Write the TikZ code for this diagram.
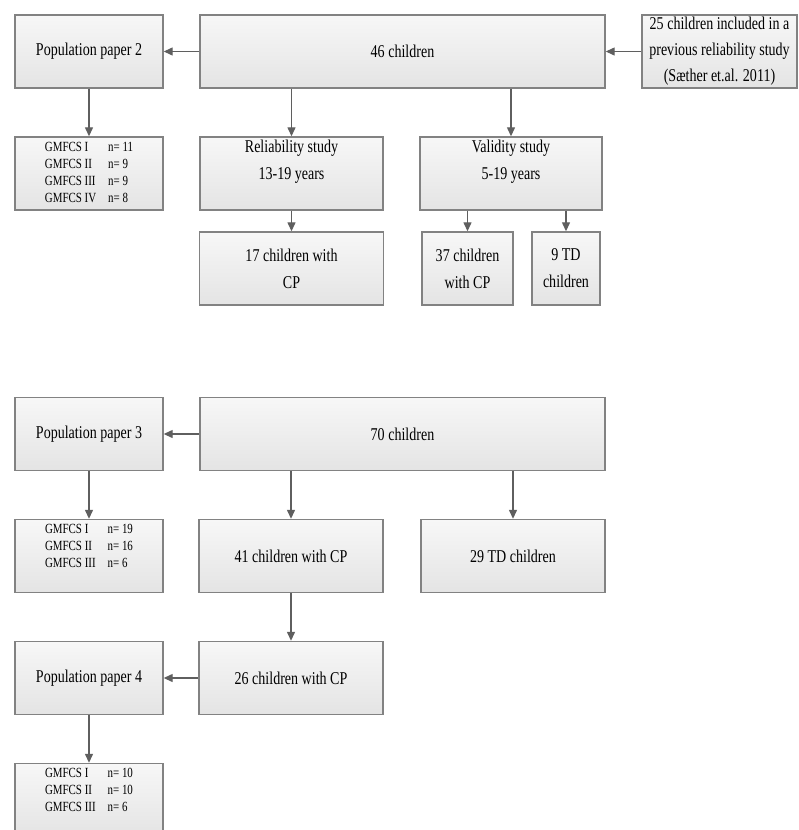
\documentclass[tikz,border=0pt]{standalone}
\usepackage{fontspec}
\setmainfont{Liberation Serif}[FakeStretch=0.78]
\usepackage{tikz}
\usetikzlibrary{arrows.meta}
\definecolor{boxline}{RGB}{130,130,130}
\definecolor{arrowgray}{RGB}{95,95,95}
\definecolor{boxtop}{RGB}{247,247,247}
\definecolor{boxbottom}{RGB}{228,228,228}
\tikzstyle{box} = [rectangle, minimum width=148pt, minimum height=73pt, inner sep=2pt, text centered, align=center, draw=boxline, line width=1.4pt, top color=boxtop, bottom color=boxbottom, font=\fontsize{18}{27}\selectfont]
\tikzstyle{gmbox} = [box, font=\fontsize{14}{17}\selectfont]
\tikzstyle{arrow} = [line width=1.3pt, draw=arrowgray, -{Triangle[length=9pt,width=8pt]}]

\begin{document}
\begin{tikzpicture}[node distance=122pt]
\useasboundingbox (0,0) rectangle (798pt,-830pt);
\clip (0,0) rectangle (798pt,-830pt);

% first study
\node (pop2) [box] at (89pt,-51.5pt) {Population paper 2};
\node (c46) [box, minimum width=405pt, right of=pop2, node distance=313.5pt] {46 children};
\node (prev) [box, minimum width=155pt, right of=c46, node distance=317pt, font=\fontsize{18}{26}\selectfont] {25 children included in a\\previous reliability study\\(Sæther et.al. 2011)};
\node (gm2) [gmbox, below of=pop2] {\begin{tabular}{@{}l@{\hspace{12pt}}l@{}}GMFCS I & n= 11\\GMFCS II & n= 9\\GMFCS III & n= 9\\GMFCS IV & n= 8\end{tabular}};
\node (rel) [box, minimum width=183pt, right of=gm2, node distance=202.5pt] {Reliability study\\13-19 years\\~};
\node (val) [box, minimum width=182pt, right of=rel, node distance=219.5pt] {Validity study\\5-19 years\\~};
\node (c17) [box, minimum width=184pt, below of=rel, node distance=95pt] {17 children with\\CP};
\node (c37) [box, minimum width=91pt, below of=val, node distance=95pt, xshift=-43.5pt] {37 children\\with CP};
\node (td9) [box, minimum width=68pt, below of=val, node distance=95pt, xshift=55pt] {9 TD\\children};

\draw [arrow] (c46) -- (pop2);
\draw [arrow] (prev) -- (c46);
\draw [arrow] (pop2) -- (gm2);
\draw [arrow] (c46.south -| rel) -- (rel);
\draw [arrow] (c46.south -| val) -- (val);
\draw [arrow] (rel) -- (c17);
\draw [arrow] (val.south -| c37) -- (c37);
\draw [arrow] (val.south -| td9) -- (td9);

% second study
\node (pop3) [box] at (89pt,-434pt) {Population paper 3};
\node (c70) [box, minimum width=405pt, right of=pop3, node distance=313.5pt] {70 children};
\node (gm3) [gmbox, below of=pop3] {\begin{tabular}{@{}l@{\hspace{12pt}}l@{}}GMFCS I & n= 19\\GMFCS II & n= 16\\GMFCS III & n= 6\\ & \end{tabular}};
\node (c41) [box, minimum width=184pt, right of=gm3, node distance=202pt] {41 children with CP};
\node (td29) [box, minimum width=184pt, right of=c41, node distance=222pt] {29 TD children};
\node (c26) [box, minimum width=184pt, below of=c41] {26 children with CP};
\node (pop4) [box, below of=gm3] {Population paper 4};
\node (gm4) [gmbox, below of=pop4] {\begin{tabular}{@{}l@{\hspace{12pt}}l@{}}GMFCS I & n= 10\\GMFCS II & n= 10\\GMFCS III & n= 6\\ & \end{tabular}};

\draw [arrow] (c70) -- (pop3);
\draw [arrow] (pop3) -- (gm3);
\draw [arrow] (c70.south -| c41) -- (c41);
\draw [arrow] (c70.south -| td29) -- (td29);
\draw [arrow] (c41) -- (c26);
\draw [arrow] (c26) -- (pop4);
\draw [arrow] (pop4) -- (gm4);
\end{tikzpicture}
\end{document}
